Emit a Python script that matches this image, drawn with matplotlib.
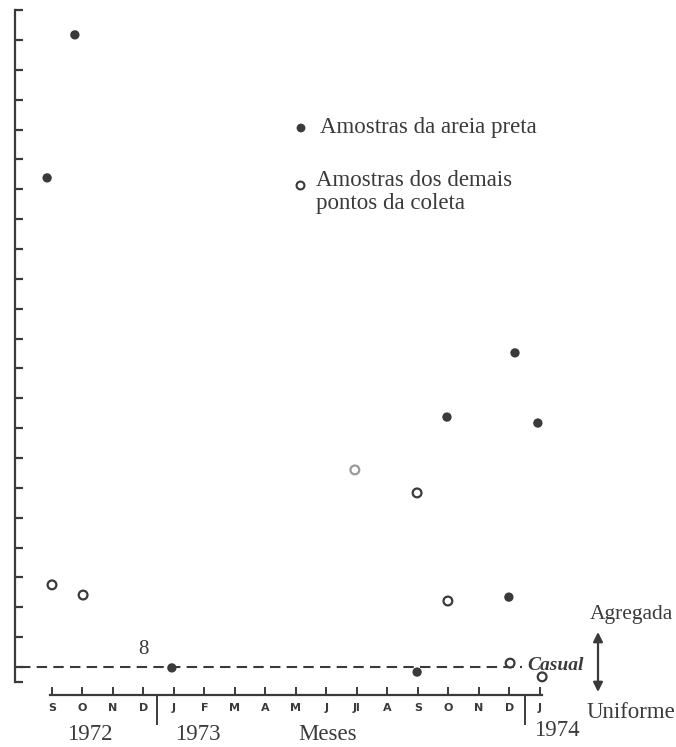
import matplotlib
matplotlib.use("Agg")
import matplotlib.pyplot as plt

# months along the bottom axis, Sep 1972 .. Jan 1974 (index 0..16)
month_labels = ["S", "O", "N", "D", "J", "F", "M", "A", "M", "J",
                "Jl", "A", "S", "O", "N", "D", "J"]

# black sand samples (filled dots): month position, value
preta_mes = [0.75, -0.16, 3.93, 11.97, 12.95, 15.18, 14.98, 15.93]
preta_val = [22.17, 17.38, 0.97, 0.83, 9.37, 11.52, 3.34, 9.17]

# other collection points (open circles)
demais_mes = [0.0, 1.02, 9.93, 11.97, 12.98, 15.02, 16.07]
demais_val = [3.75, 3.41, 7.60, 6.83, 3.21, 1.13, 0.67]

casual = 1.0
y_ticks = list(range(1, 24))

INK = "#3a3a3a"
SERIF = ["Liberation Serif", "DejaVu Serif"]
FS = 16.5

# pixel layout helpers (reference is 676x747)
PX_X0, PX_DX = 52, 30.5
PX_Y1, PX_DY = 667, 29.86


def mx(px):
    return (px - PX_X0) / PX_DX


def vy(py):
    return 1 + (PX_Y1 - py) / PX_DY


fig = plt.figure(figsize=(6.76, 7.47), dpi=100)
ax = fig.add_axes([0, 0, 1, 1])
ax.set_xlim(mx(0), mx(676))
ax.set_ylim(vy(747), vy(0))

for s in ("top", "right"):
    ax.spines[s].set_visible(False)

# y axis: hand drawn line with ticks pointing inward
ax.spines["left"].set_position(("data", mx(15)))
ax.spines["left"].set_bounds(vy(682), y_ticks[-1])
ax.spines["left"].set_color(INK)
ax.spines["left"].set_linewidth(1.6)
ax.set_yticks(y_ticks + [vy(682)])
ax.tick_params(axis="y", direction="in", length=6, width=1.6,
               colors=INK, labelleft=False)

# x axis: months
ax.spines["bottom"].set_position(("data", vy(695)))
ax.spines["bottom"].set_bounds(-0.05, len(month_labels) - 1 + 0.05)
ax.spines["bottom"].set_color(INK)
ax.spines["bottom"].set_linewidth(1.6)
ax.set_xticks(range(len(month_labels)))
ax.set_xticklabels(month_labels, fontsize=8, fontweight="bold",
                   family="DejaVu Sans")
ax.tick_params(axis="x", direction="in", length=6, width=1.4,
               colors=INK, pad=6)

# year separators
for xs in (mx(157), mx(525)):
    ax.plot([xs, xs], [vy(695), vy(724)], color=INK, lw=1.4, clip_on=False)

ax.text(mx(90), vy(735), "1972", fontsize=FS, family=SERIF, color=INK,
        ha="center", va="center")
ax.text(mx(198), vy(735), "1973", fontsize=FS, family=SERIF, color=INK,
        ha="center", va="center")
ax.text(mx(328), vy(735), "Meses", fontsize=FS, family=SERIF, color=INK,
        ha="center", va="center")
ax.text(mx(557), vy(731), "1974", fontsize=FS, family=SERIF, color=INK,
        ha="center", va="center")

# random distribution reference line
ax.plot([mx(20), mx(522)], [casual, casual], color=INK, lw=1.5,
        linestyle=(0, (5, 3)))
ax.text(mx(527), casual + 0.05, "Casual", fontsize=14, family=SERIF,
        style="italic", fontweight="bold", color=INK, ha="left", va="center")
ax.text(mx(143), vy(650), "8", fontsize=15, family=SERIF, color=INK,
        ha="center", va="center")

# data
ax.scatter(preta_mes, preta_val, s=45, color=INK, edgecolors="none", zorder=3)
edge_cols = [INK] * len(demais_mes)
edge_cols[2] = "#9a9a9a"
ax.scatter(demais_mes, demais_val, s=40, facecolors="white",
           edgecolors=edge_cols, linewidths=1.6, zorder=3)

# legend drawn as in the original
ax.scatter([mx(301)], [vy(128)], s=40, color=INK, edgecolors="none")
ax.text(mx(320), vy(128), "Amostras da areia preta", fontsize=FS,
        family=SERIF, color=INK, ha="left", va="center")
ax.scatter([mx(300)], [vy(185)], s=32, facecolors="white", edgecolors=INK,
           linewidths=1.5)
ax.text(mx(316), vy(180), "Amostras dos demais", fontsize=FS,
        family=SERIF, color=INK, ha="left", va="center")
ax.text(mx(316), vy(203), "pontos da coleta", fontsize=FS,
        family=SERIF, color=INK, ha="left", va="center")

# aggregated / uniform double arrow
ax.annotate("", xy=(mx(598), vy(632)), xytext=(mx(598), vy(692)),
            arrowprops=dict(arrowstyle="<|-|>", color=INK, lw=1.6,
                            mutation_scale=14, shrinkA=0, shrinkB=0))
ax.text(mx(590), vy(614), "Agregada", fontsize=15.5, family=SERIF,
        color=INK, ha="left", va="center")
ax.text(mx(587), vy(712), "Uniforme", fontsize=FS, family=SERIF,
        color=INK, ha="left", va="center")

fig.savefig("out.png", dpi=100, facecolor="white")
